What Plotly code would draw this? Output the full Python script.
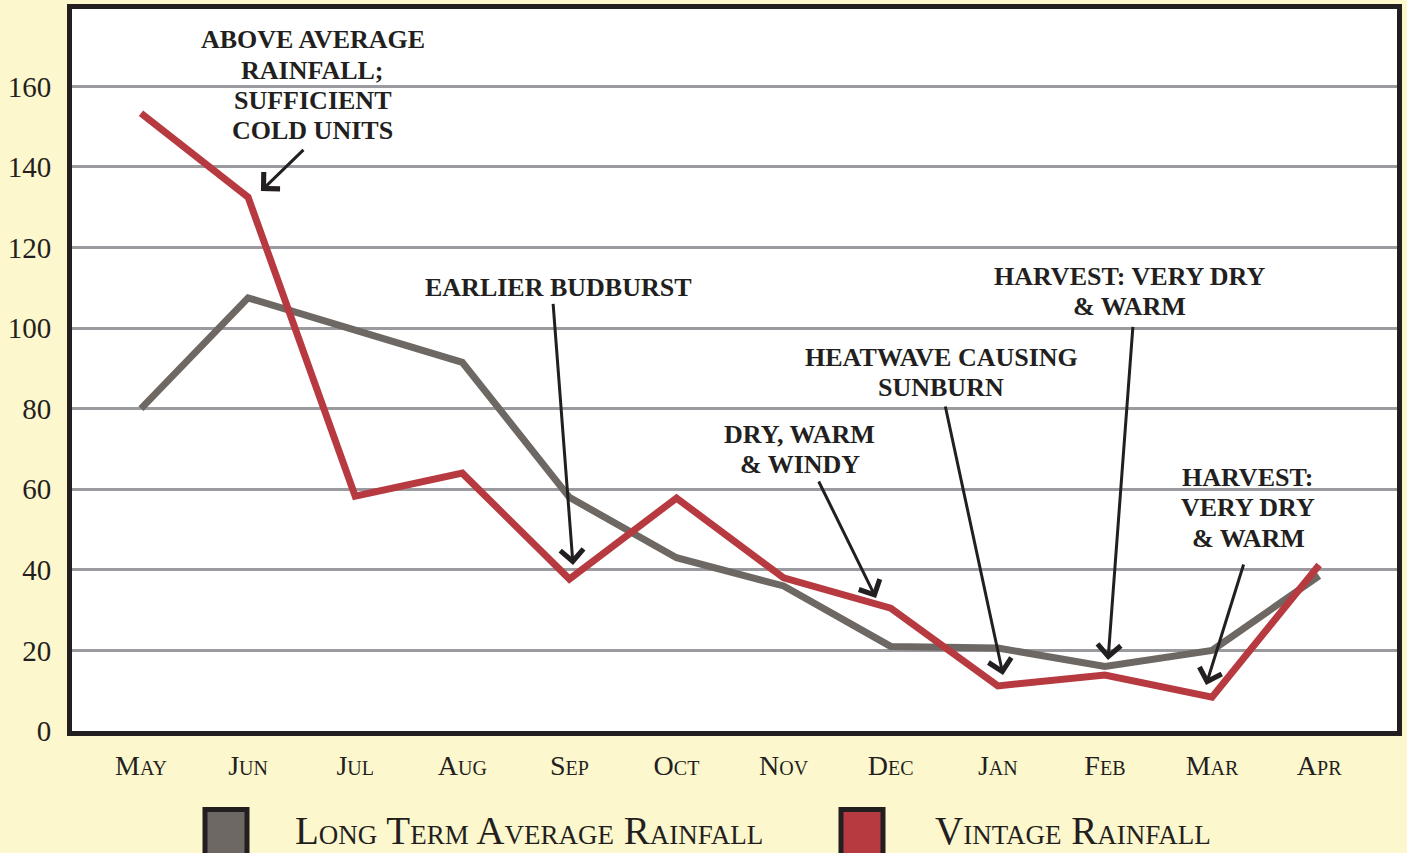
import plotly.graph_objects as go

months = ["May", "Jun", "Jul", "Aug", "Sep", "Oct", "Nov", "Dec", "Jan", "Feb", "Mar", "Apr"]
long_term_avg = [80, 107.5, 99.5, 91.5, 58, 43, 36, 21, 20.6, 16, 20, 38.5]
vintage = [153.3, 132.5, 58.3, 64, 37.7, 57.8, 38, 30.5, 11.2, 13.9, 8.4, 41.2]
y_ticks = [0, 20, 40, 60, 80, 100, 120, 140, 160]

# annotation texts: (lines, center x, y of first line)
notes = [
    (["ABOVE AVERAGE", "RAINFALL;", "SUFFICIENT", "COLD UNITS"], 1.606, 171.6),
    (["EARLIER BUDBURST"], 3.894, 110.1),
    (["DRY, WARM", "& WINDY"], 6.153, 73.6),
    (["HEATWAVE CAUSING", "SUNBURN"], 7.470, 92.7),
    (["HARVEST: VERY DRY", "& WARM"], 9.234, 112.8),
    (["HARVEST:", "VERY DRY", "& WARM"], 10.336, 63.0),
]
# arrows: (tail x, tail y, head x, head y)
arrows = [
    (1.531, 144.6, 1.120, 134.0),
    (3.847, 106.4, 4.034, 41.2),
    (6.321, 62.3, 6.863, 33.0),
    (7.507, 80.9, 8.049, 13.9),
    (9.262, 100.7, 9.029, 17.6),
    (10.299, 41.7, 9.944, 11.4),
]

BG = "#FDF7CE"
DARK = "#231F20"
GRAY = "#6D6863"
RED = "#B73A40"
SERIF = "Liberation Serif, DejaVu Serif, serif"
LINE_STEP = 7.55  # data units between annotation lines (~30 px)

x = list(range(len(months)))

fig = go.Figure()
fig.add_trace(go.Scatter(x=x, y=long_term_avg, mode="lines", name="Long Term Average Rainfall",
                         line=dict(color=GRAY, width=7), showlegend=False))
fig.add_trace(go.Scatter(x=x, y=vintage, mode="lines", name="Vintage Rainfall",
                         line=dict(color=RED, width=7), showlegend=False))

annotations = []
for lines, cx, y0 in notes:
    for i, t in enumerate(lines):
        annotations.append(dict(text="<b>" + t + "</b>", x=cx, y=y0 - i * LINE_STEP,
                                xref="x", yref="y", showarrow=False,
                                xanchor="center", yanchor="middle",
                                font=dict(family=SERIF, size=26, color=DARK)))
for tx, ty, hx, hy in arrows:
    annotations.append(dict(text="", x=hx, y=hy, ax=tx, ay=ty, xref="x", yref="y",
                            axref="x", ayref="y", showarrow=True, arrowhead=4,
                            arrowsize=1.5, arrowwidth=3, arrowcolor=DARK, standoff=0))

W, H = 1407, 853
ML, MR, MT, MB = 72, 10, 4, 122
PW, PH = W - ML - MR, H - MT - MB
PB = H - MB  # plot bottom pixel

# custom legend (swatches + labels)
legend_items = [("Long Term Average Rainfall", GRAY, 203, 293), ("Vintage Rainfall", RED, 839, 933)]
shapes = []
for label, col, sx, tx in legend_items:
    shapes.append(dict(type="rect", xref="paper", yref="paper",
                       x0=(sx + 2 - ML) / PW, x1=(sx + 44 - ML) / PW,
                       y0=(PB - 860) / PH, y1=(PB - 810) / PH,
                       fillcolor=col, line=dict(color=DARK, width=5), layer="above"))
    annotations.append(dict(text=label, x=(tx - ML) / PW, y=(PB - 831) / PH,
                            xref="paper", yref="paper", showarrow=False,
                            xanchor="left", yanchor="middle",
                            font=dict(family=SERIF, size=39, color=DARK, variant="small-caps")))

fig.update_layout(
    width=W, height=H,
    paper_bgcolor=BG, plot_bgcolor="white",
    margin=dict(l=ML, r=MR, t=MT, b=MB),
    annotations=annotations, shapes=shapes,
    showlegend=False,
    xaxis=dict(range=[-0.644, 11.727], tickmode="array", tickvals=x, ticktext=months,
               showgrid=False, zeroline=False, showline=True, mirror=True,
               linecolor=DARK, linewidth=5, ticks="", ticklabelstandoff=5,
               tickfont=dict(family=SERIF, size=28, color=DARK, variant="small-caps")),
    yaxis=dict(range=[0, 179.2], tickmode="array", tickvals=y_ticks,
               showgrid=True, gridcolor="#9B9A9F", gridwidth=3, zeroline=False,
               showline=True, mirror=True, linecolor=DARK, linewidth=5, ticks="",
               ticklabelstandoff=10,
               tickfont=dict(family=SERIF, size=29, color=DARK)),
)

fig.write_html(
    "out.html",
    config={"displayModeBar": False},
    post_script="document.body.style.margin='0';document.body.style.padding='0';"
                "document.body.style.background='#FDF7CE';document.body.style.overflow='hidden';",
)
